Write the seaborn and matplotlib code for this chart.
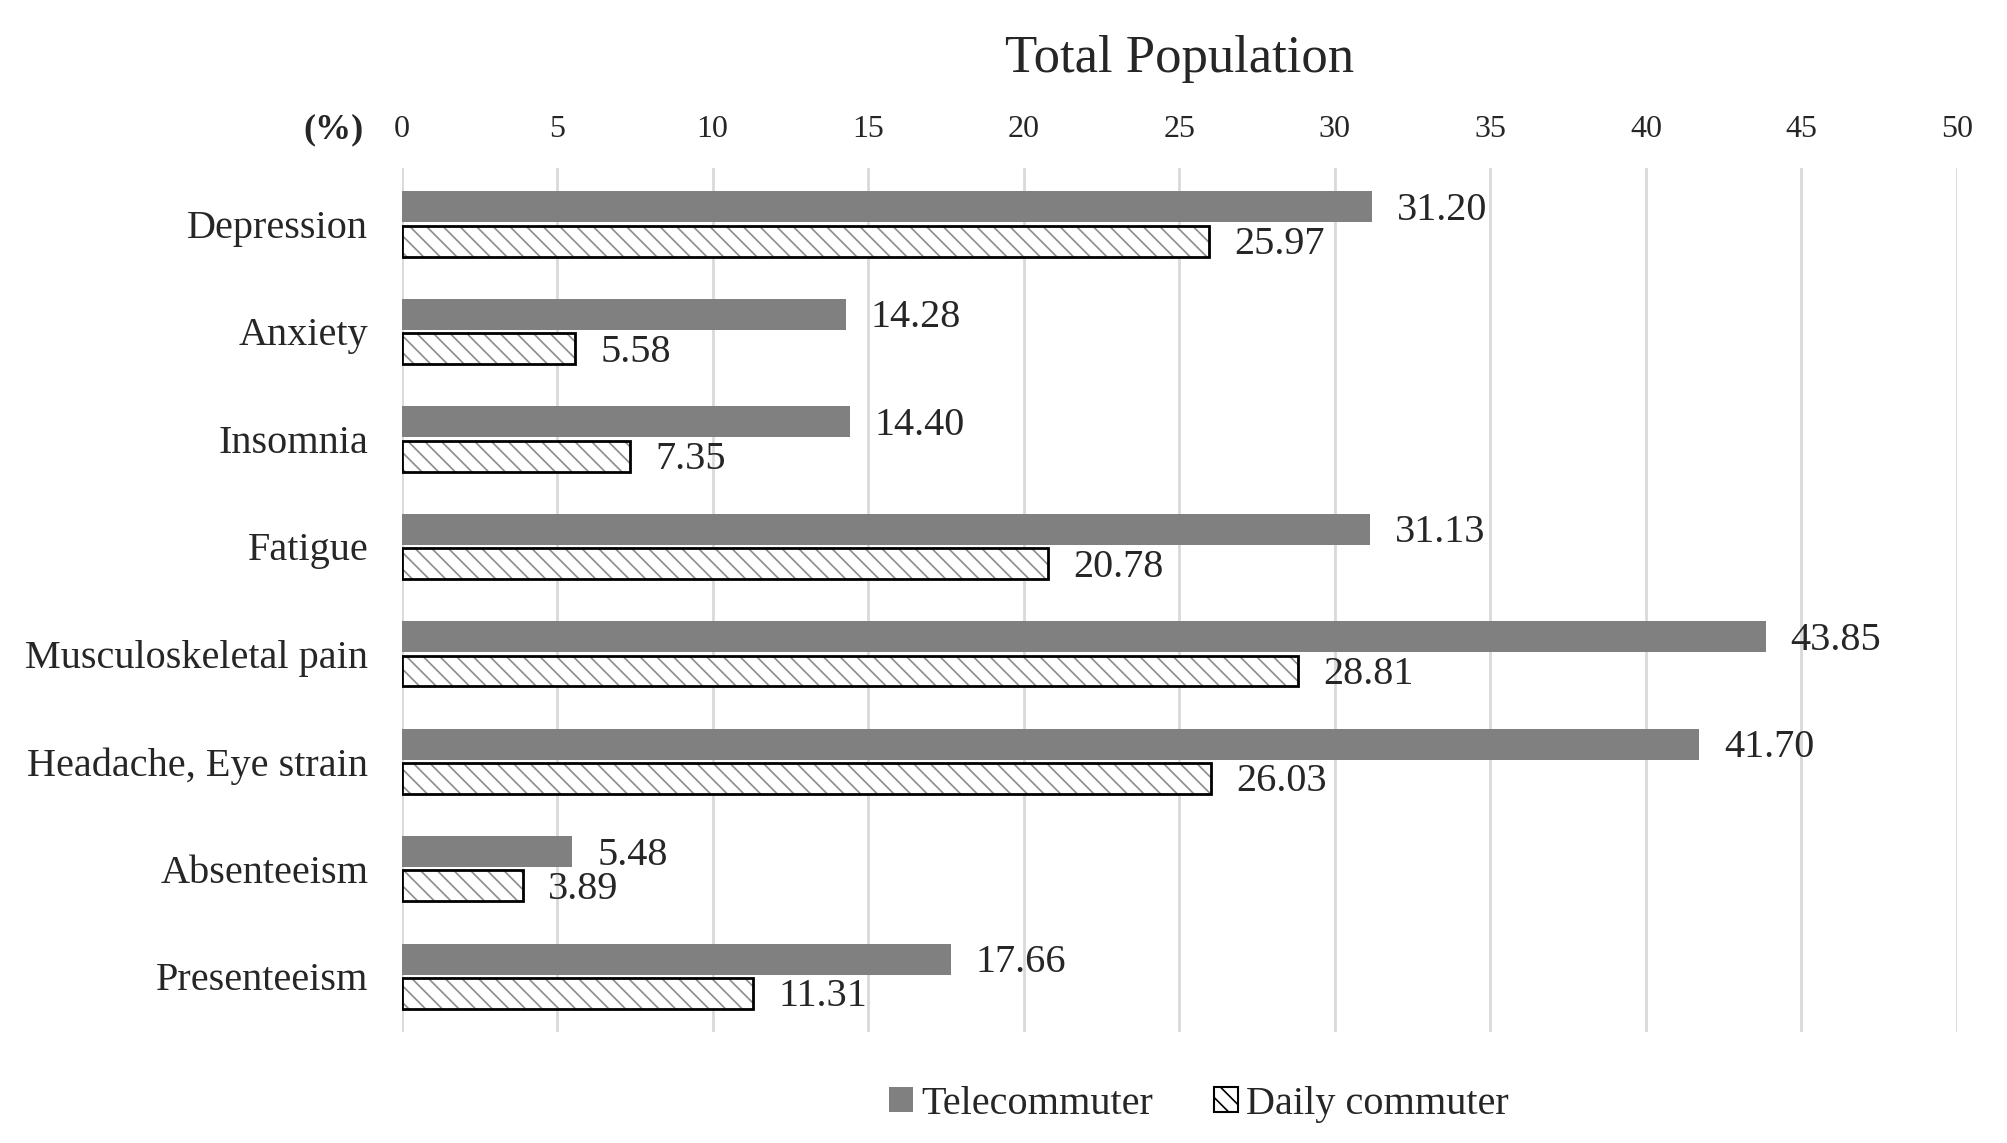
import pandas as pd
import matplotlib.pyplot as plt
import matplotlib.patches as mpatches
import seaborn as sns

symptoms = ["Depression", "Anxiety", "Insomnia", "Fatigue", "Musculoskeletal pain",
            "Headache, Eye strain", "Absenteeism", "Presenteeism"]
telecommuter = [31.20, 14.28, 14.40, 31.13, 43.85, 41.70, 5.48, 17.66]
daily_commuter = [25.97, 5.58, 7.35, 20.78, 28.81, 26.03, 3.89, 11.31]
groups = ["Telecommuter", "Daily commuter"]

df = pd.DataFrame({
    "symptom": symptoms * 2,
    "value": telecommuter + daily_commuter,
    "group": [groups[0]] * len(symptoms) + [groups[1]] * len(symptoms),
})

sns.set_style("white")
plt.rcParams["font.family"] = ["Liberation Serif", "DejaVu Serif"]
plt.rcParams["hatch.linewidth"] = 1.2

fig = plt.figure(figsize=(20.08, 11.43), dpi=100)
ax = fig.add_axes([0.2, 0.097, 0.7746, 0.756])

sns.barplot(data=df, y="symptom", x="value", hue="group", orient="h",
            palette=["#808080", "white"], width=0.64, gap=0.1,
            legend=False, ax=ax, saturation=1)

tele_bars, daily_bars = ax.containers[0], ax.containers[1]
for p in tele_bars:
    p.set_edgecolor("none")
for p in daily_bars:
    p.set_facecolor("white")
    p.set_hatch("\\\\")
    p.set_edgecolor("#8c8c8c")
    p.set_linewidth(0)
    # black outline on top of the grey hatch
    ax.add_patch(mpatches.Rectangle(p.get_xy(), p.get_width(), p.get_height(),
                                    fill=False, edgecolor="black", linewidth=2, zorder=3))

labels = ax.bar_label(tele_bars, labels=[f"{v:.2f}" for v in telecommuter], padding=18, fontsize=29)
labels += ax.bar_label(daily_bars, labels=[f"{v:.2f}" for v in daily_commuter], padding=18, fontsize=29)
for t in labels:
    t.xyann = (18, -2.5)

ax.set_xlim(0, 50)
ax.set_ylim(7.52, -0.52)
ax.set_xticks(range(0, 51, 5))
ax.xaxis.tick_top()
ax.tick_params(axis="x", length=0, pad=17, labelsize=23)
ax.tick_params(axis="y", length=0, pad=24, labelsize=29)
ax.grid(axis="x", color="#d9d9d9", linewidth=2)
ax.set_axisbelow(True)
for s in ax.spines.values():
    s.set_visible(False)
ax.set_xlabel("")
ax.set_ylabel("")

fig.text(0.5875, 0.948, "Total Population", ha="center", va="center", fontsize=38)
fig.text(0.166, 0.886, "(%)", ha="center", va="center", fontsize=26, fontweight="bold")

handles = [
    mpatches.Patch(facecolor="#808080", edgecolor="none", label=groups[0]),
    mpatches.Patch(facecolor="white", edgecolor="black", hatch="\\\\", linewidth=1.5, label=groups[1]),
]
fig.legend(handles=handles, loc="center", bbox_to_anchor=(0.597, 0.034), ncol=2,
           frameon=False, fontsize=29, handlelength=0.6, handleheight=0.6,
           handletextpad=0.2, columnspacing=1.5)

fig.savefig("out.png", dpi=100)
